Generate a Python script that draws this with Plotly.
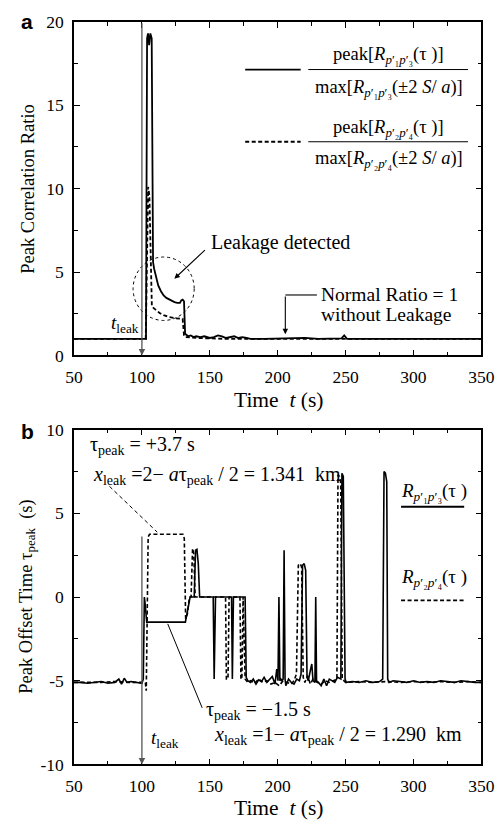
import plotly.graph_objects as go

W, H = 503, 832

# ---------------- data: panel a (peak correlation ratio) ----------------
a_solid_t = [50, 60, 70, 80, 90, 100, 102, 103.0, 103.8, 104.5, 105.3, 106.2, 107.2, 108.2, 109, 110, 112, 114, 116,
             118, 120, 122, 124, 126, 128, 129, 130, 131, 131.8, 134, 136, 138, 140, 143, 146, 150, 153, 156, 159,
             162, 165, 168, 171, 174, 177, 180, 190, 200, 210, 220, 230, 240, 247, 249, 251, 260, 270, 280, 290,
             300, 310, 320, 330, 340, 350]
a_solid_v = [1.0, 1.0, 1.0, 1.0, 1.0, 1.0, 1.0, 1.0, 19.0, 19.3, 18.6, 19.3, 19.0, 5.6, 5.2, 4.8, 4.2, 3.85, 3.6,
             3.45, 3.35, 3.3, 3.2, 3.15, 3.15, 3.3, 3.35, 3.25, 1.3, 1.15, 1.2, 1.1, 1.15, 1.1, 1.15, 1.05, 1.1,
             1.2, 1.15, 1.05, 1.1, 1.15, 1.05, 1.1, 1.05, 1.0, 1.0, 1.02, 1.03, 1.05, 1.0, 1.0, 1.02, 1.2, 1.0,
             1.0, 1.0, 1.02, 1.0, 1.0, 1.0, 1.0, 1.0, 1.0, 1.0]

a_dash_t = [50, 70, 90, 100, 102.8, 104.6, 105.5, 107.3, 108.5, 110, 113, 116, 120, 125, 130, 131, 132, 140, 160,
            200, 250, 300, 350]
a_dash_v = [1.0, 1.0, 1.0, 1.0, 1.0, 10.1, 9.6, 3.0, 2.85, 2.75, 2.55, 2.42, 2.3, 2.22, 2.2, 1.2, 1.1, 1.05, 1.0,
            1.0, 1.0, 1.0, 1.0]

# ---------------- data: panel b (peak offset time) ----------------
b_solid_t = [50, 55, 60, 65, 70, 75, 80, 83, 85, 87, 89, 92, 95, 98, 100, 101, 101.8, 102.5, 103.5, 132, 134, 135.5,
             138.5, 139.5, 140.5, 141.5, 142.5, 152.5, 153.2, 154.2, 166, 166.6, 167.4, 176, 176.8, 178, 180, 182,
             184, 186, 188, 190, 192, 194, 196, 198, 199.3, 200.2, 200.9, 201.6, 202.3, 203.2, 204.0, 204.7, 205.4,
             206, 208, 210, 212, 214, 216, 217.2, 218.3, 219.5, 220.6, 221.6, 222.5, 224, 225.1, 226, 227.4, 228,
             228.6, 230, 232, 234, 236, 238, 240, 242, 244, 246.5, 247.3, 248.3, 249.6, 250.5, 255, 260, 265, 270,
             275, 277.3, 278.3, 279.3, 280.3, 281, 282, 285, 290, 295, 300, 305, 310, 315, 320, 325, 330, 335, 340,
             345, 350]
b_solid_v = [-5.1, -5.1, -5.15, -5.1, -5.05, -5.15, -5.1, -4.9, -5.2, -4.85, -5.1, -5.05, -5.1, -5.15, -5.15, -4.9,
             0.0, -0.5, -1.5, -1.5, -0.5, 0.0, 0.0, 2.8, 2.85, 2.0, 0.0, 0.0, -4.9, 0.0, 0.0, -4.9, 0.0, 0.0, -4.8,
             -5.0, -5.1, -4.9, -5.2, -4.95, -5.05, -4.8, -5.1, -4.9, -4.75, -5.2, -4.3, -5.0, 0.0, -5.0, -4.9, -5.0,
             -4.9, 2.8, -4.9, -5.3, -4.9, -5.1, -5.2, -4.9, -5.0, -4.6, 1.9, 2.0, 1.6, -4.8, -5.0, -4.4, -4.0, -5.0,
             -5.1, 0.0, -5.0, -5.1, -5.3, -4.9, -5.3, -4.9, -5.0, -5.1, -4.8, -4.9, 7.4, 7.2, -4.9, -5.1, -5.05,
             -5.1, -5.0, -5.1, -5.05, -4.9, 7.5, 7.4, 6.9, -4.9, -5.1, -5.0, -5.05, -5.1, -5.0, -5.1, -5.05, -5.1,
             -5.0, -5.05, -5.1, -5.0, -5.05, -5.1, -5.1]

b_dash_t = [50, 60, 70, 80, 90, 100, 102.5, 103.2, 104.6, 105.6, 130.2, 131.2, 132.2, 133.5, 135, 136.2, 137.3,
            138.2, 139.2, 152, 161.6, 162.2, 163.4, 164.2, 172.2, 172.9, 173.6, 174.5, 176, 178, 180, 183, 186,
            189, 192, 195, 198, 201, 204, 207, 210, 212, 213.8, 215.2, 216.5, 217.6, 218.8, 220, 222, 224, 226,
            229, 232, 235, 238, 241, 243.6, 244.4, 245.5, 246.4, 247.5, 250, 260, 270, 280, 290, 300, 310, 320,
            330, 340, 350]
b_dash_v = [-5.1, -5.1, -5.1, -5.05, -5.1, -5.1, -5.1, -5.6, 3.6, 3.75, 3.75, 3.5, -1.3, -1.0, 0.0, 0.0, 2.9,
            2.6, 0.0, 0.0, 0.0, -4.9, -4.9, 0.0, 0.0, -4.9, -4.9, 0.0, -4.9, -5.1, -5.0, -5.15, -4.9, -5.1, -5.0,
            -5.2, -5.1, -5.3, -5.0, -5.1, -5.2, -5.0, -4.6, 1.9, 2.0, 1.8, -4.8, -5.1, -4.7, -5.2, -4.9, -5.1, -5.2,
            -5.0, -5.1, -5.0, -4.9, 7.3, 7.2, 6.8, -4.9, -5.1, -5.05, -5.1, -5.05, -5.1, -5.05, -5.1, -5.05, -5.1,
            -5.05, -5.1]

x_ticks = [50, 100, 150, 200, 250, 300, 350]
a_yticks = [0, 5, 10, 15, 20]
b_yticks = [-10, -5, 0, 5, 10]
b_yticklabels = ["-10", "-5", "0", "5", "10"]

SERIF = "Liberation Serif"
SANS = "Liberation Sans"


def px(x):
    return x / W


def py(y):
    return 1 - y / H


fig = go.Figure()
line_w = 1.8
fig.add_trace(go.Scatter(x=a_solid_t, y=a_solid_v, mode="lines", line=dict(color="black", width=line_w),
                         xaxis="x", yaxis="y", showlegend=False))
fig.add_trace(go.Scatter(x=a_dash_t, y=a_dash_v, mode="lines",
                         line=dict(color="black", width=line_w, dash="4px,2.5px"),
                         xaxis="x", yaxis="y", showlegend=False))
fig.add_trace(go.Scatter(x=b_solid_t, y=b_solid_v, mode="lines", line=dict(color="black", width=1.6),
                         xaxis="x2", yaxis="y2", showlegend=False))
fig.add_trace(go.Scatter(x=b_dash_t, y=b_dash_v, mode="lines",
                         line=dict(color="black", width=1.6, dash="4px,2.5px"),
                         xaxis="x2", yaxis="y2", showlegend=False))

xdom = [px(68), px(494)]
axis_common = dict(showline=True, linecolor="black", linewidth=1.6, mirror="allticks", ticks="inside",
                   ticklen=6, tickwidth=1.4, tickcolor="black", showgrid=False, zeroline=False,
                   ticklabeloverflow="allow",
                   tickfont=dict(family=SERIF, size=17.5, color="black"))
minor = dict(ticks="inside", ticklen=4, tickwidth=1.2, tickcolor="black")

fig.update_layout(
    width=W, height=H, margin=dict(l=0, r=0, t=0, b=0),
    paper_bgcolor="white", plot_bgcolor="white",
    xaxis=dict(domain=xdom, anchor="y", range=[50, 350], tickvals=x_ticks, ticklabelstandoff=5,
               minor=dict(dtick=25, **minor), **axis_common),
    yaxis=dict(domain=[py(354), py(12)], anchor="x", range=[0, 20], tickvals=a_yticks, ticklabelstandoff=5,
               minor=dict(dtick=2.5, **minor), **axis_common),
    xaxis2=dict(domain=xdom, anchor="y2", range=[50, 350], tickvals=x_ticks, ticklabelstandoff=5,
                minor=dict(dtick=25, **minor), **axis_common),
    yaxis2=dict(domain=[py(773), py(430)], anchor="x2", range=[-10, 10], tickvals=b_yticks,
                ticktext=b_yticklabels, ticklabelstandoff=5,
                minor=dict(dtick=2.5, **minor), **axis_common),
)

ann = []
shapes = []


def text(x, y, s, size=18, xanchor="center", family=SERIF, color="black", angle=0):
    ann.append(dict(x=px(x), y=py(y), xref="paper", yref="paper", text=s, showarrow=False,
                    xanchor=xanchor, yanchor="middle", textangle=angle, borderpad=0,
                    font=dict(family=family, size=size, color=color)))


def pline(x0, y0, x1, y1, width=1.2, dash="solid"):
    shapes.append(dict(type="line", xref="paper", yref="paper", x0=px(x0), y0=py(y0), x1=px(x1), y1=py(y1),
                       line=dict(color="black", width=width, dash=dash)))


# panel letters
text(19, 12, "<b>a</b>", size=21, family=SANS)
text(19, 432, "<b>b</b>", size=21, family=SANS)

# axis titles
text(19, 183, "Peak Correlation Ratio", size=18.5, angle=-90)
text(282, 400, "Time  <i>t</i> (s)", size=21.5)
text(19, 601, "Peak Offset Time τ<sub>peak</sub>  (s)", size=18.5, angle=-90)
text(282, 818, "Time  <i>t</i> (s)", size=21.5)

# panel a legend
R13 = "<i>R</i><sub><i>p</i>′₁<i>p</i>′₃</sub>"
R24 = "<i>R</i><sub><i>p</i>′₂<i>p</i>′₄</sub>"
pline(247, 61, 305, 61, width=1.8)
pline(313, 61, 480, 61, width=1.0)
text(397, 47, "peak[" + R13 + "(τ )]", size=18.5)
text(397, 80, "max[" + R13 + "(±2 <i>S</i>/ <i>a</i>)]", size=18.5)
pline(247, 135, 305, 135, width=1.8, dash="4px,2.5px")
pline(313, 135, 480, 135, width=1.0)
text(397, 121, "peak[" + R24 + "(τ )]", size=18.5)
text(397, 153, "max[" + R24 + "(±2 <i>S</i>/ <i>a</i>)]", size=18.5)

# panel a annotations
text(210, 238, "Leakage detected", size=20, xanchor="left")
ann.append(dict(x=123.9, y=4.6, ax=147.5, ay=6.4, xref="x", yref="y", axref="x", ayref="y", text="",
                showarrow=True, arrowhead=2, arrowsize=1, arrowwidth=1.1, arrowcolor="black"))
shapes.append(dict(type="circle", xref="x", yref="y", x0=93.5, x1=138.5, y0=2.1, y1=5.9,
                   line=dict(color="black", width=1, dash="dot")))
text(325, 292, "Normal Ratio = 1", size=19.5, xanchor="left")
text(325, 312, "without Leakage", size=19.5, xanchor="left")
pline(289, 292, 322, 292, width=1.1)
ann.append(dict(x=205.6, y=1.28, ax=205.6, ay=3.63, xref="x", yref="y", axref="x", ayref="y", text="",
                showarrow=True, arrowhead=2, arrowsize=1, arrowwidth=1.1, arrowcolor="black"))
text(106, 322, "<i>t</i><sub>leak</sub>", size=19, xanchor="left")
ann.append(dict(x=100, y=0, ax=100, ay=20, xref="x", yref="y", axref="x", ayref="y", text="",
                showarrow=True, arrowhead=2, arrowsize=1, arrowwidth=1.3, arrowcolor="#555555"))

# panel b annotations
text(84, 446, "τ<sub>peak</sub> = +3.7 s", size=20, xanchor="left")
text(87, 477, "<i>x</i><sub>leak</sub> =2− <i>a</i>τ<sub>peak</sub> / 2 = 1.341  km", size=20, xanchor="left")
pline(105, 488, 155, 535, width=1.0, dash="4px,3px")
text(205, 718, "τ<sub>peak</sub> = −1.5 s", size=20, xanchor="left")
text(213, 743, "<i>x</i><sub>leak</sub> =1− <i>a</i>τ<sub>peak</sub> / 2 = 1.290  km", size=20, xanchor="left")
pline(166, 629, 202, 715, width=1.0)
text(147, 747, "<i>t</i><sub>leak</sub>", size=19, xanchor="left")
ann.append(dict(x=100, y=-10, ax=100, ay=3.7, xref="x2", yref="y2", axref="x2", ayref="y2", text="",
                showarrow=True, arrowhead=2, arrowsize=1, arrowwidth=1.3, arrowcolor="#555555"))
text(444, 494, R13 + "(τ )", size=19)
pline(410, 509, 476, 509, width=1.8)
text(444, 582, R24 + "(τ )", size=19)
pline(410, 605, 476, 605, width=1.8, dash="4px,2.5px")

fig.update_layout(annotations=ann, shapes=shapes)
fig.write_html("out.html", config={"displayModeBar": False},
               post_script="document.body.style.margin='0';document.body.style.overflow='hidden';")
